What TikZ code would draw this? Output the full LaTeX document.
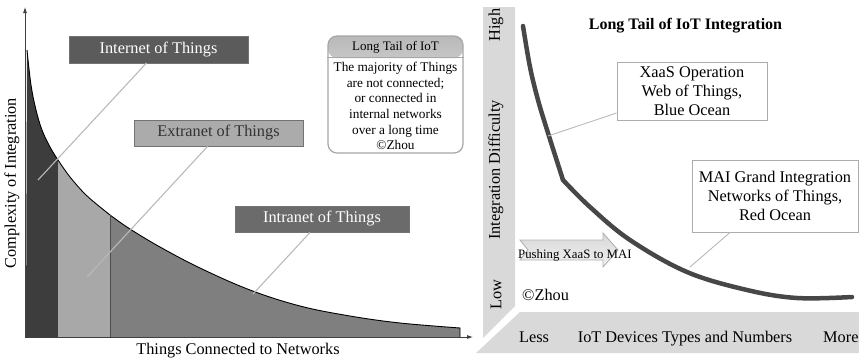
\documentclass[tikz,border=0pt]{standalone}
\usepackage{fontspec}
\setmainfont{Liberation Serif}
\usetikzlibrary{positioning, arrows.meta}

\definecolor{iotfill}{HTML}{3D3D3D}
\definecolor{eotfill}{HTML}{A8A8A8}
\definecolor{iontfill}{HTML}{7F7F7F}
\definecolor{iotbox}{HTML}{5B5B5B}
\definecolor{eotbox}{HTML}{ABABAB}
\definecolor{iontbox}{HTML}{6B6B6B}

\begin{document}
\begin{tikzpicture}[
        x=1pt, y=-1pt,
        bigfont/.style={font=\fontsize{16.3}{19}\selectfont},
        thingbox/.style={rectangle, draw=black!55, minimum width=#1, minimum height=26.5pt, inner sep=0pt, bigfont},
        tailbox/.style={rectangle, draw=gray!70, line width=1.2pt, rounded corners=9pt, fill=white, minimum width=135pt, minimum height=117pt},
        oceanbox/.style={rectangle, draw=gray!65, line width=0.9pt, fill=white, align=center, inner sep=0pt, bigfont},
        leader/.style={gray!55, line width=1.1pt},
        axis/.style={black!75, line width=0.8pt, -{Latex[length=6pt, width=4pt]}},
        tailline/.style={black!72, line width=4.5pt, line cap=round, line join=round},
        band/.style={fill=gray!30},
        bandlabel/.style={rotate=90, bigfont}
    ]
    \useasboundingbox (0,0) rectangle (859,359);

    % left chart
    \fill[iotfill] plot[smooth, tension=0.6] coordinates {(27,50) (31,85) (36,110) (42,130) (50,147) (58,160)} -- (58,337) -- (26,337) -- cycle;
    \fill[eotfill] plot[smooth, tension=0.6] coordinates {(58,160) (70,177) (85,194) (100,207) (110,215)} -- (110,337) -- (58,337) -- cycle;
    \fill[iontfill] plot[smooth, tension=0.6] coordinates {(110,215) (130,229) (160,247) (200,268) (250,290) (300,306) (350,316) (400,323) (460,328)} -- (460,337) -- (110,337) -- cycle;
    \draw[black, line width=0.9pt] plot[smooth, tension=0.6] coordinates {(27,50) (31,85) (36,110) (42,130) (50,147) (58,160) (70,177) (85,194) (100,207) (110,215) (130,229) (160,247) (200,268) (250,290) (300,306) (350,316) (400,323) (460,328)} -- (460,337);
    \draw[black!70, line width=0.8pt] (110,215) -- (110,337);
    \coordinate (origin) at (25,337);
    \draw[axis] (origin) -- (473,337);
    \draw[axis] (origin) -- (25,7);

    \node[thingbox=179pt, fill=iotbox, text=white] (iot) at (158.5,49.5) {Internet of Things};
    \node[thingbox=169pt, fill=eotbox, text=black!80] (eot) at (218.5,133) {Extranet of Things};
    \node[thingbox=174pt, fill=iontbox, text=white] (iont) at (322,219) {Intranet of Things};

    \coordinate (iotend) at (38,180);
    \coordinate (eotend) at (87,277);
    \coordinate (iontend) at (253,294);
    \draw[leader] ([xshift=-12pt]iot.south) -- (iotend);
    \draw[leader] ([xshift=-11pt]eot.south) -- (eotend);
    \draw[leader] ([xshift=-12pt]iont.south) -- (iontend);

    \node[tailbox, path picture={\shade[top color=gray!55, bottom color=white] (path picture bounding box.north west) rectangle ([yshift=-22pt]path picture bounding box.north east);}] (tail) at (395.5,94.5) {};
    \draw[gray!70, line width=0.9pt] ([yshift=-22pt]tail.north west) -- ([yshift=-22pt]tail.north east);
    \node[font=\fontsize{13}{16}\selectfont] (tailhead) at (395.5,47.5) {Long Tail of IoT};
    \node[font=\fontsize{13.3}{15.6}\selectfont, align=center, inner sep=0pt] (tailtext) at (395.5,106) {The majority of Things\\ are not connected;\\ or connected in\\ internal networks\\ over a long time\\ ©Zhou};

    \node[bigfont, anchor=base, inner sep=0pt] (xlab) at (238,354) {Things Connected to Networks};
    \node[bigfont, rotate=90] (ylab) at (12,183) {Complexity of Integration};

    % right chart
    \fill[band] (483,7) -- (515,7) -- (515,306) -- (483,338) -- cycle;
    \fill[band] (520,312) -- (859,312) -- (859,353) -- (476,353) -- cycle;
    \node[bandlabel] (high) at (496,25) {High};
    \node[bandlabel] (difficulty) at (496,170) {Integration Difficulty};
    \node[bandlabel] (low) at (496,295) {Low};

    \node[bigfont, anchor=base] (less) at (534,342) {Less};
    \node[bigfont, anchor=base] (devices) at (685,342) {IoT Devices Types and Numbers};
    \node[bigfont, anchor=base west, inner sep=0pt] (more) at (823,342) {More};

    \node[font=\bfseries\fontsize{16}{19}\selectfont, anchor=base] (title) at (685.5,29) {Long Tail of IoT Integration};

    \draw[tailline] plot[smooth, tension=0.6] coordinates {(523,26) (530,67) (538,100) (548,133) (563,180)};
    \draw[tailline] plot[smooth, tension=0.6] coordinates {(563,180) (590,207) (630,240) (687,272) (747,290) (797,298) (852,297)};

    \node[oceanbox, minimum width=150pt, minimum height=58pt] (xaas) at (692,91) {XaaS Operation\\ Web of Things,\\ Blue Ocean};
    \node[oceanbox, minimum width=166pt, minimum height=72pt] (mai) at (775,196) {MAI Grand Integration\\ Networks of Things,\\ Red Ocean};
    \coordinate (xaasend) at (548,136);
    \coordinate (maiend) at (690,267);
    \draw[leader, line width=0.9pt] ([yshift=-22pt]xaas.west) -- (xaasend);
    \draw[leader, line width=0.9pt] ([xshift=-45pt]mai.south) -- (maiend);

    \draw[gray!60, line width=0.9pt, top color=gray!30, bottom color=gray!12] (520,240) -- (603,240) -- (603,233) -- (618,250) -- (603,267) -- (603,260) -- (520,260) -- (528,250) -- cycle;
    \node[font=\fontsize{12.8}{15}\selectfont, anchor=base west, inner sep=0pt] (push) at (518,258) {Pushing XaaS to MAI};
    \node[bigfont, anchor=base west, inner sep=0pt] (copyright) at (522,300) {©Zhou};
\end{tikzpicture}
\end{document}
